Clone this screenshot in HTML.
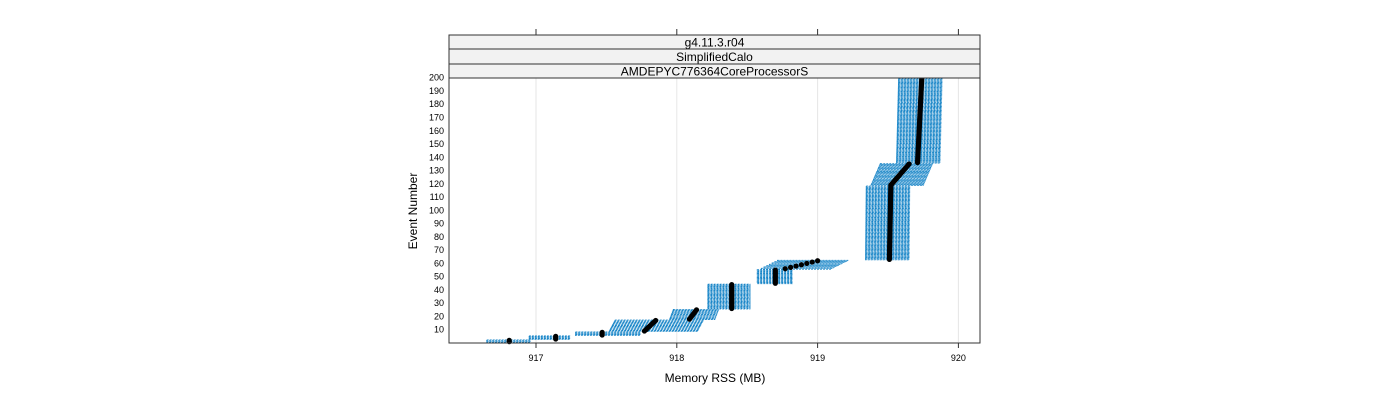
<!DOCTYPE html>
<html><head><meta charset="utf-8"><style>
body{margin:0;background:#fff;font-family:"Liberation Sans",sans-serif}
svg text{font-family:"Liberation Sans",sans-serif}
</style></head><body>
<svg id="c" width="1400" height="400" xmlns="http://www.w3.org/2000/svg">
<g id="grid"></g>
<g id="marks"></g>
<rect x="449" y="78" width="531" height="265" fill="none" stroke="#333"/>
<g>
<rect x="449" y="35" width="531" height="14" fill="#f2f2f2" stroke="#333"/>
<text x="714.5" y="46.5" font-size="12" text-anchor="middle">g4.11.3.r04</text>
<rect x="449" y="49" width="531" height="15" fill="#f2f2f2" stroke="#333"/>
<text x="714.5" y="61" font-size="12" text-anchor="middle">SimplifiedCalo</text>
<rect x="449" y="64" width="531" height="14" fill="#f2f2f2" stroke="#333"/>
<text x="714.5" y="75.5" font-size="12" text-anchor="middle">AMDEPYC776364CoreProcessorS</text>
</g>
<g id="axes"></g>
<text x="715" y="382" font-size="12" text-anchor="middle">Memory RSS (MB)</text>
<text x="0" y="0" font-size="12" text-anchor="middle" transform="translate(417,211) rotate(-90)">Event Number</text>
</svg>
<script>
const xTicks=[917,918,919,920];
const yTicks=[10,20,30,40,50,60,70,80,90,100,110,120,130,140,150,160,170,180,190,200];
const groupStart=[1,3,6,9,18,26,45,56,63,119,136];
const groupEnd=[2,5,8,17,25,44,55,62,118,135,200];
const medFirst=[916.81,917.14,917.47,917.77,918.09,918.39,918.70,918.77,919.51,919.52,919.71];
const medLast=[916.81,917.14,917.47,917.85,918.14,918.39,918.70,919.00,919.52,919.65,919.74];
const boxLo=[916.65,916.95,917.28,917.52,917.95,918.22,918.57,918.60,919.34,919.38,919.56];
const boxHi=[916.96,917.24,917.74,918.15,918.27,918.52,918.82,919.10,919.65,919.75,919.87];
const NS="http://www.w3.org/2000/svg";
const X=v=>536+(v-917)*140.8;
const Y=e=>343-e*1.3265;
function mk(t,a,p){const e=document.createElementNS(NS,t);for(const k in a)e.setAttribute(k,a[k]);p.appendChild(e);return e;}
const grid=document.getElementById('grid'),axes=document.getElementById('axes'),marks=document.getElementById('marks');
xTicks.forEach(v=>{
 const g=mk('line',{x1:X(v),x2:X(v),y1:78,y2:343,stroke:'#e6e6e6'},grid);
 
 
 const t1=mk('line',{x1:X(v),x2:X(v),y1:343,y2:348,stroke:'#333'},axes);
 
 
 const t2=mk('line',{x1:X(v),x2:X(v),y1:29,y2:35,stroke:'#333'},axes);
 
 
 const l=mk('text',{x:X(v),y:361,'font-size':9,'text-anchor':'middle'},axes);
 l.textContent=v;
 
 
});
yTicks.forEach(v=>{
 const l=mk('text',{x:444,y:Y(v)+3,'font-size':9,'text-anchor':'end'},axes);
 l.textContent=v;
 
 
});
const meds=[];
groupStart.forEach((s,i)=>{
 const e2=groupEnd[i],n=e2-s;
 for(let e=s;e<=e2;e++){
  const f=n?(e-s)/n:0;
  const m=medFirst[i]+(medLast[i]-medFirst[i])*f;
  const lo=boxLo[i]+(m-medFirst[i])*0.5,hi=boxHi[i]+(m-medFirst[i])*0.5;
  const y=Y(e);
  const r=mk('rect',{x:X(lo),y:y-0.45,width:X(hi)-X(lo),height:0.9,fill:'none',stroke:'#1a86c8','stroke-width':0.8,'stroke-dasharray':'2 1'},marks);
  
  
  meds.push([X(m),y]);
 }
});
meds.forEach(p=>{
 const c=mk('circle',{cx:p[0],cy:p[1],r:2.6,fill:'#000'},marks);
 
 
});
</script>
</body></html>
